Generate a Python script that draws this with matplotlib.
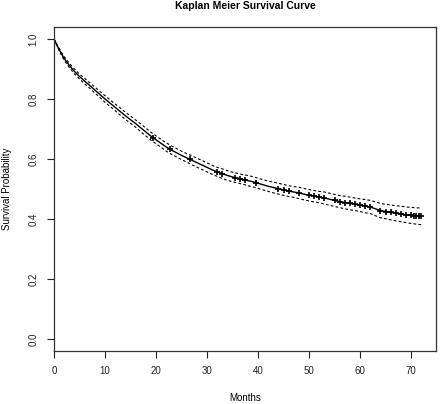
import numpy as np
import matplotlib
matplotlib.use("Agg")
import matplotlib.pyplot as plt

months = list(range(0, 73))
surv = [1.000, .965, .935, .912, .892, .875, .860, .845, .830, .815,
        .800, .786, .772, .758, .744, .731, .718, .704, .690, .676,
        .664, .652, .640, .630, .621, .612, .604, .596, .588, .580,
        .572, .564, .557, .551, .545, .540, .536, .532, .528, .524,
        .519, .514, .509, .505, .501, .497, .493, .490, .487, .483,
        .479, .476, .473, .470, .466, .462, .458, .455, .452, .449,
        .446, .443, .440, .434, .428, .425, .422, .419, .417, .414,
        .412, .410, .409]
upper = [1.000, .969, .941, .919, .900, .883, .869, .854, .840, .825,
         .811, .797, .783, .770, .756, .743, .730, .717, .703, .689,
         .677, .665, .654, .644, .635, .626, .618, .611, .603, .595,
         .587, .579, .572, .567, .561, .556, .552, .548, .545, .541,
         .536, .531, .526, .523, .519, .515, .511, .508, .506, .502,
         .498, .495, .492, .490, .486, .482, .478, .476, .473, .470,
         .467, .465, .462, .457, .452, .449, .447, .444, .443, .440,
         .439, .437, .437]
lower = [1.000, .961, .929, .905, .884, .867, .851, .836, .820, .805,
         .789, .775, .761, .746, .732, .719, .706, .691, .677, .663,
         .651, .639, .626, .616, .607, .598, .590, .581, .573, .565,
         .557, .549, .542, .535, .529, .524, .520, .516, .511, .507,
         .502, .497, .492, .487, .483, .479, .475, .472, .468, .464,
         .460, .457, .454, .450, .446, .442, .438, .434, .431, .428,
         .425, .421, .418, .411, .404, .401, .397, .394, .391, .388,
         .385, .383, .381]
censor_times = [19.5, 22.7, 26.7, 32.0, 33.0, 35.5, 36.5, 37.5, 39.5, 44.0,
                45.0, 46.0, 48.0, 50.0, 51.0, 52.0, 53.0, 55.0, 56.0, 57.0,
                58.0, 59.0, 60.0, 61.0, 62.0, 64.0, 65.0, 66.0, 67.0, 68.0,
                69.0, 70.0, 70.5, 71.0, 71.5, 72.0]
xticks = [0, 10, 20, 30, 40, 50, 60, 70]
yticks = [0.0, 0.2, 0.4, 0.6, 0.8, 1.0]

plt.rcParams['font.family'] = ['Liberation Sans', 'DejaVu Sans']

fig = plt.figure(figsize=(4.45, 4.04), dpi=100)
ax = fig.add_axes([54/445, 1-351/404, (436-54)/445, (351-27)/404])

ax.plot(months, surv, color='black', lw=1.0)
ax.plot(months, upper, color='black', lw=0.8, ls=(0, (2.5, 2)))
ax.plot(months, lower, color='black', lw=0.8, ls=(0, (2.5, 2)))
cy = np.interp(censor_times, months, surv)
ax.plot(censor_times, cy, ls='none', marker='+', color='black', ms=5, mew=1.2)

ax.set_xlim(0, 74.88)
ax.set_ylim(-0.04, 1.04)
ax.set_xticks(xticks)
ax.set_xticklabels([str(t) for t in xticks])
ax.set_yticks(yticks)
ax.set_yticklabels([f"{t:.1f}" for t in yticks], rotation=90, va='center')
ax.tick_params(direction='out', length=5, width=0.8, labelsize=7, pad=6, colors='#222222')
for s in ax.spines.values():
    s.set_linewidth(0.9)
    s.set_color('#333333')

ax.set_xlabel('Months', fontsize=7, labelpad=12)
ax.set_ylabel('Survival Probability', fontsize=7, labelpad=12)
fig.text(245/445, 1-6/404, 'Kaplan Meier Survival Curve', ha='center', va='center',
         fontsize=7.5, fontweight='bold')

fig.savefig('out.png', dpi=100)
